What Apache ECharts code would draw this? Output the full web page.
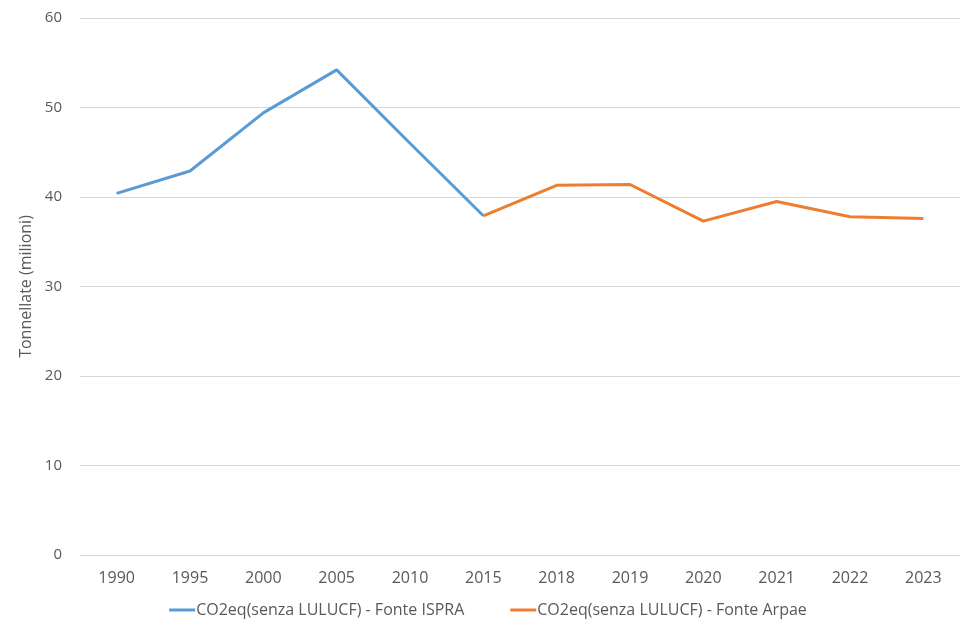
<!DOCTYPE html>
<html>
<head>
<meta charset="utf-8">
<script src="https://cdn.jsdelivr.net/npm/echarts@6/dist/echarts.min.js"></script>
<style>html,body{margin:0;padding:0;background:#fff}#c{width:976px;height:638px}</style>
</head>
<body>
<div id="c"></div>
<script>
const categories = ['1990','1995','2000','2005','2010','2015','2018','2019','2020','2021','2022','2023'];
const ispra = [40.4, 42.9, 49.4, 54.2, 46.0, 37.9, null, null, null, null, null, null];
const arpae = [null, null, null, null, null, 37.9, 41.3, 41.4, 37.3, 39.5, 37.8, 37.6];
const yTicks = {min: 0, max: 60, interval: 10};

const font = 'Open Sans';
const chart = echarts.init(document.getElementById('c'));
chart.setOption({
  animation: false,
  grid: {left: 80, right: 16, top: 18, bottom: 83, containLabel: false},
  legend: {
    top: 597, left: 'center', itemWidth: 26, itemHeight: 3, itemGap: 46,
    icon: 'rect',
    textStyle: {color: '#595959', fontSize: 16, fontFamily: font, padding: [0, 0, 0, -4]},
    data: ['CO2eq(senza LULUCF) - Fonte ISPRA', 'CO2eq(senza LULUCF) - Fonte Arpae']
  },
  xAxis: {
    type: 'category', data: categories, boundaryGap: true,
    axisLine: {lineStyle: {color: '#D9D9D9'}},
    axisTick: {show: false},
    axisLabel: {color: '#595959', fontSize: 16, fontFamily: font, margin: 15}
  },
  yAxis: {
    type: 'value', min: yTicks.min, max: yTicks.max, interval: yTicks.interval,
    name: 'Tonnellate (milioni)', nameLocation: 'middle', nameGap: 37,
    nameTextStyle: {color: '#595959', fontSize: 16, fontFamily: font},
    axisLine: {show: false}, axisTick: {show: false},
    axisLabel: {color: '#595959', fontSize: 15, fontFamily: font, margin: 18},
    splitLine: {lineStyle: {color: '#D9D9D9', width: 1}}
  },
  series: [
    {name: 'CO2eq(senza LULUCF) - Fonte ISPRA', type: 'line', data: ispra, showSymbol: false, symbol: 'none',
     lineStyle: {color: '#5B9BD5', width: 3}, itemStyle: {color: '#5B9BD5'}},
    {name: 'CO2eq(senza LULUCF) - Fonte Arpae', type: 'line', data: arpae, showSymbol: false, symbol: 'none',
     lineStyle: {color: '#ED7D31', width: 3}, itemStyle: {color: '#ED7D31'}}
  ]
});
</script>
</body>
</html>
